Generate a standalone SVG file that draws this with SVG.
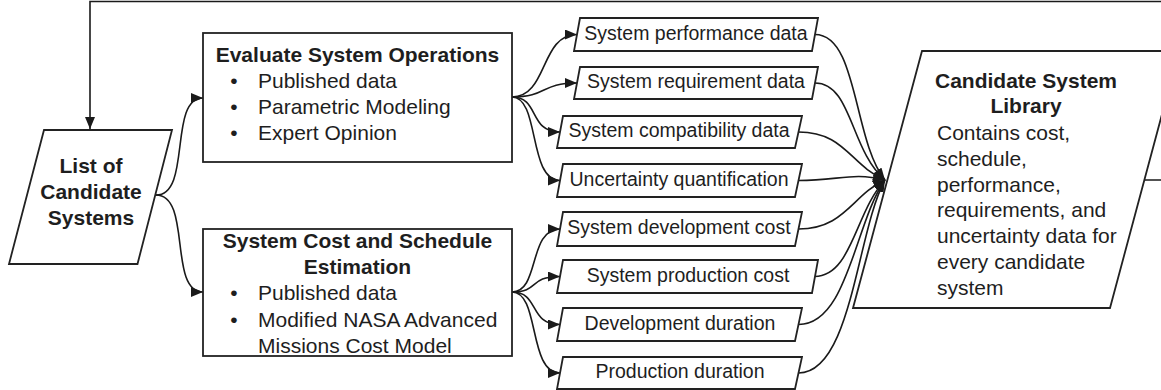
<svg xmlns="http://www.w3.org/2000/svg" width="1161" height="390" viewBox="0 0 1161 390">
  <style>
    .shape { fill: #ffffff; stroke: #222222; stroke-width: 1.8; }
    .edge { fill: none; stroke: #1a1a1a; stroke-width: 1.6; marker-end: url(#arrow); }
    text { font-family: "Liberation Sans", Arial, sans-serif; fill: #1e1e1e; }
    .title { font-size: 21px; font-weight: bold; text-anchor: middle; }
    .body { font-size: 21px; }
    .bullet { font-size: 21px; text-anchor: middle; }
    .tag { font-size: 19.5px; text-anchor: middle; }
  </style>
  <defs>
    <marker id="arrow" viewBox="0 0 12 10" refX="12" refY="5" markerWidth="12" markerHeight="10" markerUnits="userSpaceOnUse" orient="auto">
      <path d="M0,0 L12,5 L0,10 z" fill="#1a1a1a"/>
    </marker>
  </defs>

  <rect width="1161" height="390" fill="#ffffff"/>

  <!-- connectors -->
  <g id="connectors">
    <!-- feedback loop: library back to the candidate list -->
    <path class="edge" d="M1144,180 H1180 V1.5 H90 V129"/>
    <!-- list to the two analysis blocks -->
    <path class="edge" d="M156,195 C192,195 168,98 203,98"/>
    <path class="edge" d="M156,195 C192,195 168,292 203,292"/>
    <!-- operations evaluation outputs -->
    <path class="edge" d="M512,97 C548,97 540,34.5 577,34.5"/>
    <path class="edge" d="M512,97 C548,97 540,83 577,83"/>
    <path class="edge" d="M512,97 C540,97 528,132 560,132"/>
    <path class="edge" d="M512,97 C540,97 528,180.5 560,180.5"/>
    <!-- cost and schedule outputs -->
    <path class="edge" d="M512,292 C540,292 528,229 560,229"/>
    <path class="edge" d="M512,292 C540,292 528,276.5 560,276.5"/>
    <path class="edge" d="M512,292 C540,292 528,324.5 560,324.5"/>
    <path class="edge" d="M512,292 C540,292 528,373 560,373"/>
    <!-- all data items into the library -->
    <path class="edge" d="M815,34.5 C858,34.5 853,140 885,180"/>
    <path class="edge" d="M815,83 C852,83 850,150 885,180"/>
    <path class="edge" d="M798.5,132 C845,132 850,165 885,180"/>
    <path class="edge" d="M798.5,180.5 C840,180.5 852,172 885,180"/>
    <path class="edge" d="M798.5,229 C845,229 852,195 885,180"/>
    <path class="edge" d="M814.5,276.5 C852,276.5 855,212 885,180"/>
    <path class="edge" d="M798.5,324.5 C848,324.5 855,222 885,180"/>
    <path class="edge" d="M798.5,373 C852,373 857,230 885,180"/>
  </g>

  <g id="candidate-list">
    <polygon class="shape" points="44,130 172,130 137.5,264 9,264"/>
    <text class="title" x="91" y="173">List of</text>
    <text class="title" x="91" y="199">Candidate</text>
    <text class="title" x="91" y="225">Systems</text>
  </g>

  <g id="evaluate-operations">
    <rect class="shape" x="203" y="33" width="309" height="129"/>
    <text class="title" x="357.5" y="62">Evaluate System Operations</text>
    <text class="bullet" x="234" y="88">•</text>
    <text class="body" x="258" y="88">Published data</text>
    <text class="bullet" x="234" y="114">•</text>
    <text class="body" x="258" y="114">Parametric Modeling</text>
    <text class="bullet" x="234" y="140">•</text>
    <text class="body" x="258" y="140">Expert Opinion</text>
  </g>

  <g id="cost-schedule">
    <rect class="shape" x="203" y="229" width="309" height="127"/>
    <text class="title" x="357.5" y="248">System Cost and Schedule</text>
    <text class="title" x="357.5" y="274">Estimation</text>
    <text class="bullet" x="234" y="300">•</text>
    <text class="body" x="258" y="300">Published data</text>
    <text class="bullet" x="234" y="327">•</text>
    <text class="body" x="258" y="327">Modified NASA Advanced</text>
    <text class="body" x="258" y="353">Missions Cost Model</text>
  </g>

  <g id="performance-data">
    <polygon class="shape" points="580,18 818,18 812,51 574,51"/>
    <text class="tag" x="696" y="39.5">System performance data</text>
  </g>
  <g id="requirement-data">
    <polygon class="shape" points="580,67 818,67 812,99 574,99"/>
    <text class="tag" x="696" y="88">System requirement data</text>
  </g>
  <g id="compatibility-data">
    <polygon class="shape" points="563,116 802,116 795,148 557,148"/>
    <text class="tag" x="679" y="137">System compatibility data</text>
  </g>
  <g id="uncertainty">
    <polygon class="shape" points="563,164 802,164 795,197 557,197"/>
    <text class="tag" x="679" y="185.5">Uncertainty quantification</text>
  </g>
  <g id="development-cost">
    <polygon class="shape" points="563,212 802,212 795,246 557,246"/>
    <text class="tag" x="679" y="233.5">System development cost</text>
  </g>
  <g id="production-cost">
    <polygon class="shape" points="563,260 818,260 812,293 557,293"/>
    <text class="tag" x="688" y="281.5">System production cost</text>
  </g>
  <g id="development-duration">
    <polygon class="shape" points="563,308 802,308 795,341 557,341"/>
    <text class="tag" x="680" y="329.5">Development duration</text>
  </g>
  <g id="production-duration">
    <polygon class="shape" points="563,357 802,357 795,389 557,389"/>
    <text class="tag" x="680" y="378">Production duration</text>
  </g>

  <g id="candidate-library">
    <polygon class="shape" points="922,51 1179,51 1110,308 853,308"/>
    <text class="title" x="1026" y="88">Candidate System</text>
    <text class="title" x="1026" y="113">Library</text>
    <text class="body" x="937" y="140">Contains cost,</text>
    <text class="body" x="937" y="166">schedule,</text>
    <text class="body" x="937" y="192">performance,</text>
    <text class="body" x="937" y="217">requirements, and</text>
    <text class="body" x="937" y="243">uncertainty data for</text>
    <text class="body" x="937" y="269">every candidate</text>
    <text class="body" x="937" y="295">system</text>
  </g>
</svg>
